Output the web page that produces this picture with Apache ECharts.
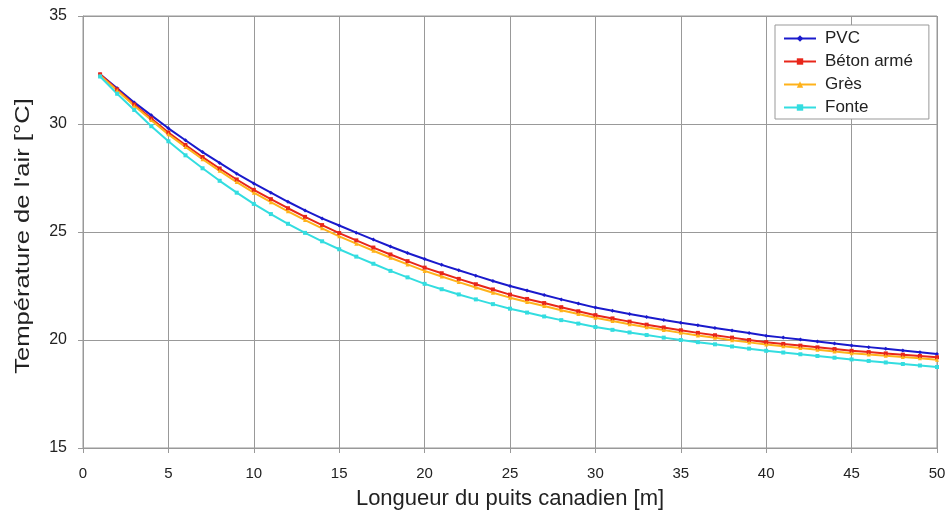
<!DOCTYPE html>
<html>
<head>
<meta charset="utf-8">
<script src="https://cdn.jsdelivr.net/npm/echarts@6/dist/echarts.min.js"></script>
<style>
  html, body { margin: 0; padding: 0; background: #fff; }
  #chart { width: 950px; height: 515px; }
</style>
</head>
<body>
<div id="chart"></div>
<script>
var longueur = [1, 2, 3, 4, 5, 6, 7, 8, 9, 10, 11, 12, 13, 14, 15, 16, 17, 18, 19, 20,
  21, 22, 23, 24, 25, 26, 27, 28, 29, 30, 31, 32, 33, 34, 35, 36, 37, 38, 39, 40,
  41, 42, 43, 44, 45, 46, 47, 48, 49, 50]

var pvc = [32.3, 31.65, 31.0, 30.4, 29.8, 29.25, 28.7, 28.2, 27.7, 27.25,
  26.82, 26.4, 26.0, 25.63, 25.3, 24.97, 24.65, 24.33, 24.03, 23.75,
  23.48, 23.23, 22.98, 22.73, 22.5, 22.29, 22.08, 21.88, 21.69, 21.5,
  21.35, 21.2, 21.06, 20.93, 20.8, 20.68, 20.56, 20.44, 20.32, 20.2,
  20.11, 20.02, 19.93, 19.84, 19.75, 19.67, 19.59, 19.51, 19.43, 19.35]

var beton = [32.3, 31.6, 30.9, 30.25, 29.6, 29.03, 28.47, 27.94, 27.43, 26.95,
  26.52, 26.1, 25.7, 25.32, 24.95, 24.61, 24.28, 23.96, 23.65, 23.35,
  23.09, 22.83, 22.58, 22.34, 22.1, 21.9, 21.71, 21.52, 21.33, 21.15,
  21.0, 20.85, 20.71, 20.58, 20.45, 20.33, 20.22, 20.11, 20.0, 19.9,
  19.82, 19.74, 19.66, 19.58, 19.5, 19.44, 19.38, 19.32, 19.26, 19.2]

var gres = [32.25, 31.55, 30.85, 30.18, 29.52, 28.94, 28.37, 27.83, 27.31, 26.82,
  26.38, 25.96, 25.55, 25.17, 24.8, 24.46, 24.13, 23.81, 23.5, 23.2,
  22.94, 22.68, 22.43, 22.19, 21.96, 21.76, 21.57, 21.38, 21.2, 21.03,
  20.88, 20.73, 20.59, 20.46, 20.33, 20.21, 20.1, 19.99, 19.89, 19.79,
  19.71, 19.63, 19.55, 19.47, 19.39, 19.33, 19.27, 19.21, 19.15, 19.09]

var fonte = [32.2, 31.4, 30.65, 29.9, 29.2, 28.55, 27.95, 27.37, 26.82, 26.3,
  25.83, 25.38, 24.96, 24.57, 24.2, 23.86, 23.53, 23.2, 22.9, 22.6,
  22.35, 22.11, 21.88, 21.66, 21.45, 21.27, 21.09, 20.92, 20.76, 20.6,
  20.47, 20.35, 20.23, 20.11, 20.0, 19.9, 19.8, 19.7, 19.6, 19.5,
  19.42, 19.34, 19.26, 19.18, 19.1, 19.03, 18.96, 18.89, 18.82, 18.75]

var titreX = 'Longueur du puits canadien [m]'
var titreY = "Température de l'air [°C]"

function pairs(vals) {
  return longueur.map(function (x, i) { return [x, vals[i]] })
}

function serie(name, vals, color, symbol) {
  return {
    name: name,
    type: 'line',
    data: pairs(vals),
    symbol: symbol,
    symbolSize: 4,
    showSymbol: true,
    lineStyle: { color: color, width: 2 },
    itemStyle: { color: color },
    emphasis: { disabled: true }
  }
}

var myChart = echarts.init(document.getElementById('chart'))
var font = 'Liberation Sans'
var option = {
  animation: false,
  textStyle: { fontFamily: font },
  grid: {
    left: 83, right: 13, top: 16, bottom: 61,
    show: true, borderColor: '#999', borderWidth: 1
  },
  graphic: [
    {
      // y title, stretched along its length like the source image
      type: 'text',
      x: 23, y: 236,
      rotation: Math.PI / 2,
      scaleX: 1.22,
      style: {
        text: titreY, fontFamily: font, fontSize: 21, fill: '#222',
        align: 'center', verticalAlign: 'middle'
      }
    }
  ],
  legend: {
    orient: 'vertical',
    left: 775, top: 25,
    padding: [5, 16, 3, 8],
    itemGap: 6,
    itemWidth: 32, itemHeight: 8,
    backgroundColor: '#fff',
    borderColor: '#999', borderWidth: 1,
    textStyle: { fontFamily: font, fontSize: 17, color: '#222', padding: [0, 0, 0, 4] },
    data: ['PVC', 'Béton armé', 'Grès', 'Fonte']
  },
  xAxis: {
    type: 'value',
    min: 0, max: 50, interval: 5,
    name: titreX,
    nameLocation: 'middle', nameGap: 40,
    nameTextStyle: { fontSize: 22, color: '#222' },
    axisLine: { lineStyle: { color: '#999' } },
    axisTick: { show: true, length: 5, lineStyle: { color: '#999' } },
    axisLabel: { fontSize: 15, color: '#222', margin: 18 },
    splitLine: { lineStyle: { color: '#999', width: 1 } }
  },
  yAxis: {
    type: 'value',
    min: 15, max: 35, interval: 5,
    axisLine: { show: true, lineStyle: { color: '#999' } },
    axisTick: { show: true, length: 5, lineStyle: { color: '#999' } },
    axisLabel: { fontSize: 16, color: '#222', margin: 16 },
    splitLine: { lineStyle: { color: '#999', width: 1 } }
  },
  series: [
    serie('PVC', pvc, '#1a1acc', 'diamond'),
    serie('Béton armé', beton, '#e8261a', 'rect'),
    serie('Grès', gres, '#ffb21a', 'triangle'),
    serie('Fonte', fonte, '#33dde0', 'rect')
  ]
}

myChart.setOption(option)
</script>
</body>
</html>
